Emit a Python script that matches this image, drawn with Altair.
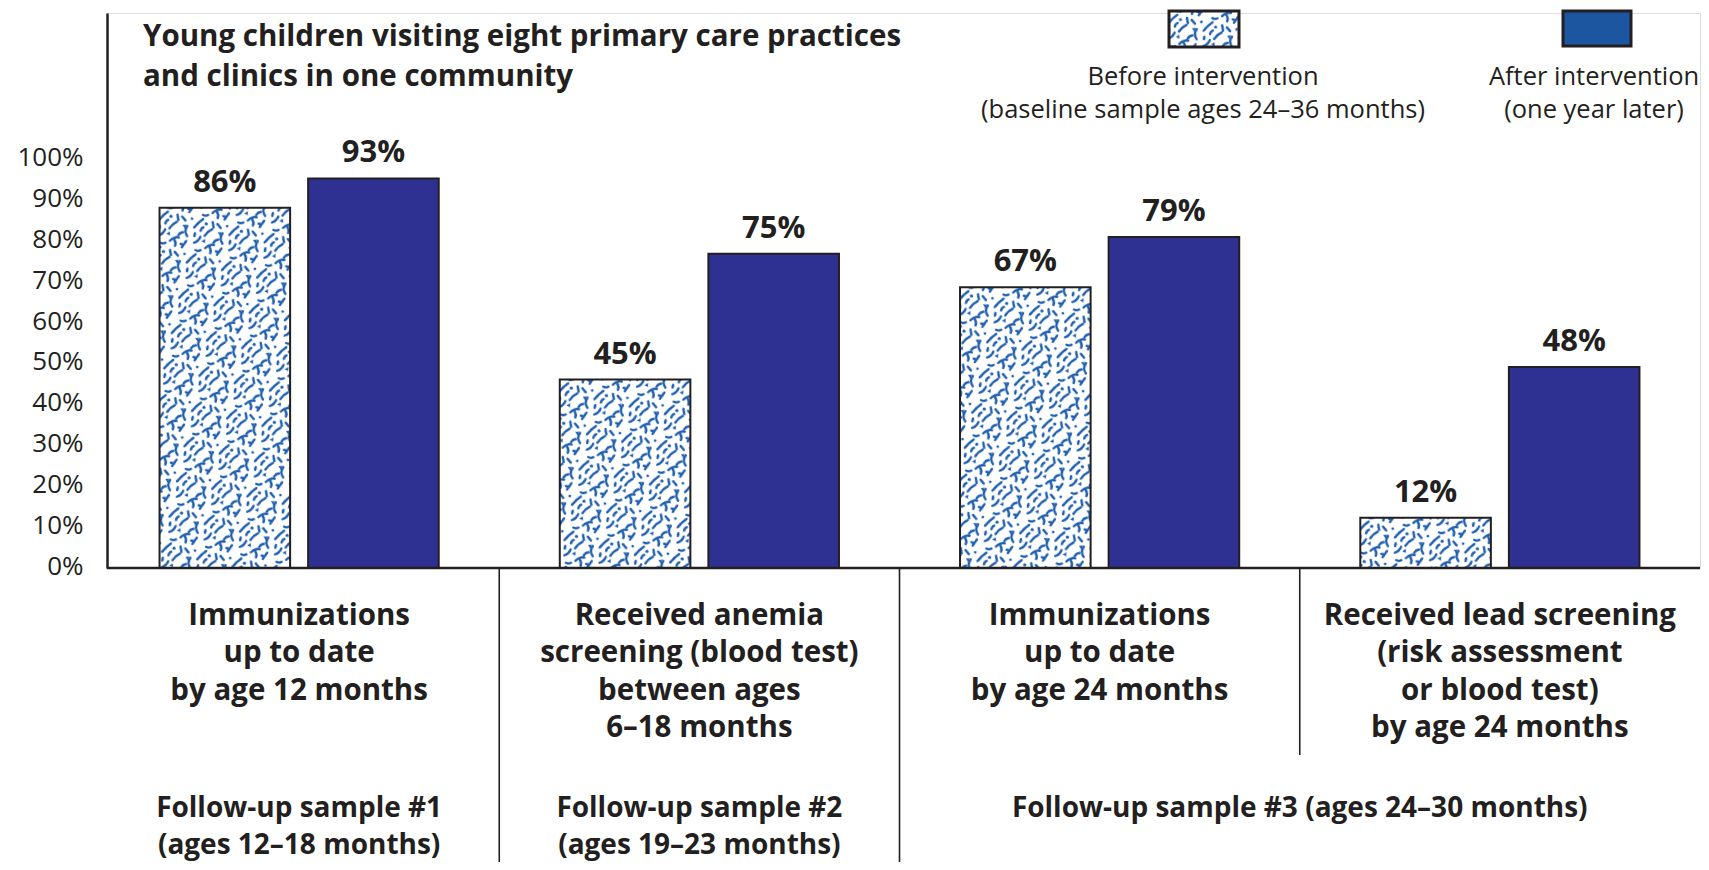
import base64
import altair as alt
import pandas as pd

# ---------------- data ----------------
categories = [
    "Immunizations|up to date|by age 12 months",
    "Received anemia|screening (blood test)|between ages|6–18 months",
    "Immunizations|up to date|by age 24 months",
    "Received lead screening|(risk assessment|or blood test)|by age 24 months",
]
series = ["Before intervention", "After intervention"]
before_values = [86, 45, 67, 12]
after_values = [93, 75, 79, 48]
y_ticks = [0, 10, 20, 30, 40, 50, 60, 70, 80, 90, 100]

samples = [
    "Follow-up sample #1\n(ages 12–18 months)",
    "Follow-up sample #2\n(ages 19–23 months)",
    "Follow-up sample #3 (ages 24–30 months)",
]
legend_labels = [
    "Before intervention\n(baseline sample ages 24–36 months)",
    "After intervention\n(one year later)",
]
title_text = "Young children visiting eight primary care practices\nand clinics in one community"

# ---------------- styles ----------------
INK = "#231f20"
AFTER_BLUE = "#2e3192"
LEGEND_BLUE = "#1c56a0"
PAT_BLUE = "#1f5fae"
FONT = "Open Sans"

PATTERN_SVG = (
    '<svg xmlns="http://www.w3.org/2000/svg" width="100%" height="100%">'
    '<defs><pattern id="p" width="36" height="36" patternUnits="userSpaceOnUse" '
    'patternTransform="rotate(12)">'
    f'<g fill="none" stroke="{PAT_BLUE}" stroke-width="2.4" stroke-linecap="round">'
    '<path d="M2 12 C4 8 6 5 9 2"/>'
    '<path d="M14 18 q2 -5 6 -8"/>'
    '<path d="M24 4 l4 3"/>'
    '<path d="M31 12 c-2 4 -1 7 2 10"/>'
    '<path d="M5 27 q4 -2 5 -7"/>'
    '<path d="M17 30 c2 -3 4 -5 8 -5"/>'
    '<path d="M33 27 l-3 7"/>'
    '<path d="M8 34 q3 1 5 -1"/>'
    '<path d="M23 34 q1 -3 -2 -6"/>'
    '<path d="M19 3 l2 5"/>'
    '<path d="M28 19 q-3 1 -4 4"/>'
    '<path d="M11 10 q-2 1 -2 4"/>'
    '</g>'
    f'<g fill="{PAT_BLUE}">'
    '<circle cx="13" cy="6" r="1.6"/>'
    '<path d="M26 12 l4 -1 l-1 4 z"/>'
    '<ellipse cx="4" cy="19" rx="1.4" ry="2.6"/>'
    '<circle cx="34" cy="4" r="1.4"/>'
    '<path d="M12 24 l3 -3 l1 4 z"/>'
    '<ellipse cx="29" cy="31" rx="2.2" ry="1.3"/>'
    '</g></pattern></defs>'
    '<rect width="100%" height="100%" fill="#ffffff"/>'
    '<rect width="100%" height="100%" fill="url(#p)"/>'
    '</svg>'
)
PATTERN_URL = "data:image/svg+xml;base64," + base64.b64encode(PATTERN_SVG.encode()).decode()

W, H = 1593, 555
Y_MAX = 132.5       # data scale (axis line runs above 100%)
Y_LABEL_MAX = 136   # tick-label scale (labels are set slightly tighter)

# ---------------- tables ----------------
rows = []
for c, b, a in zip(categories, before_values, after_values):
    rows.append({"category": c, "series": series[0], "value": b})
    rows.append({"category": c, "series": series[1], "value": a})
bars_df = pd.DataFrame(rows)
bars_df["label"] = bars_df["value"].astype(str) + "%"

x_enc = alt.X(
    "category:N",
    sort=categories,
    scale=alt.Scale(range=[-8, W], paddingInner=0, paddingOuter=0),
    axis=alt.Axis(
        title=None, domain=False, ticks=False, tickSize=0, labelAngle=0,
        labelExpr="split(datum.label, '|')", labelFont=FONT, labelFontWeight="bold",
        labelFontSize=29.5, labelColor=INK, labelPadding=56, labelBaseline="alphabetic",
        labelLineHeight=37.5, labelLimit=0, labelOverlap=False, labelAlign="center",
    ),
)
xoff_enc = alt.XOffset(
    "series:N", sort=series,
    scale=alt.Scale(domain=series, paddingInner=0.1212, paddingOuter=0.4074),
)
y_enc = alt.Y(
    "value:Q",
    scale=alt.Scale(domain=[0, Y_MAX], nice=False, zero=True),
    axis=None,
)

base = alt.Chart(bars_df)

pattern_bars = base.transform_filter(
    alt.datum.series == series[0]
).mark_image(aspect=False).encode(
    x=x_enc, xOffset=xoff_enc, y=y_enc, y2=alt.datum(0), url=alt.value(PATTERN_URL)
)

bars = base.mark_bar(stroke=INK, strokeWidth=2).encode(
    x=x_enc, xOffset=xoff_enc, y=y_enc,
    fill=alt.Fill("series:N", scale=alt.Scale(domain=series, range=["transparent", AFTER_BLUE]), legend=None),
)

value_labels = base.mark_text(
    font=FONT, fontWeight="bold", fontSize=31, color=INK, baseline="alphabetic", dy=-16
).encode(x=x_enc, xOffset=xoff_enc, y=y_enc, text="label:N")

data_layers = alt.layer(pattern_bars, bars, value_labels)

# y axis (its own scale so tick labels sit as in the original)
axis_layer = alt.Chart(pd.DataFrame({"tick": y_ticks})).mark_point(opacity=0).encode(
    y=alt.Y(
        "tick:Q",
        scale=alt.Scale(domain=[0, Y_LABEL_MAX], nice=False),
        axis=alt.Axis(
            title=None, values=y_ticks, labelExpr="datum.value + '%'", grid=False,
            ticks=False, domain=True, domainColor=INK, domainWidth=2.5, orient="left",
            labelFont=FONT, labelFontSize=26, labelColor=INK, labelPadding=24,
            labelOffset=-2,
        ),
    )
)

baseline_rule = alt.Chart(pd.DataFrame({"v": [0]})).mark_rule(
    color=INK, strokeWidth=2.5
).encode(y=alt.Y("v:Q", scale=alt.Scale(domain=[0, Y_LABEL_MAX], nice=False), axis=None))

div_x = alt.X("category:N", sort=categories, bandPosition=0)
long_dividers = alt.Chart(pd.DataFrame({"category": categories[1:3]})).mark_rule(
    color=INK, strokeWidth=1.6
).encode(x=div_x, y=alt.value(H), y2=alt.value(H + 310))
short_divider = alt.Chart(pd.DataFrame({"category": categories[3:4]})).mark_rule(
    color=INK, strokeWidth=1.6
).encode(x=div_x, y=alt.value(H), y2=alt.value(H + 187))

sample_text = dict(font=FONT, fontWeight="bold", fontSize=28, color=INK,
                   baseline="alphabetic", align="center", lineBreak="\n", lineHeight=37)
samples_a = alt.Chart(pd.DataFrame({"category": categories[0:2], "s": samples[0:2]})).mark_text(
    **sample_text
).encode(x=alt.X("category:N", sort=categories), y=alt.value(804), text="s:N")
samples_b = alt.Chart(pd.DataFrame({"category": categories[3:4], "s": samples[2:3]})).mark_text(
    **sample_text
).encode(x=alt.X("category:N", sort=categories, bandPosition=0), y=alt.value(804), text="s:N")

title_layer = alt.Chart(pd.DataFrame({"t": [title_text]})).mark_text(
    font=FONT, fontWeight="bold", fontSize=29.5, color=INK, align="left",
    baseline="alphabetic", lineBreak="\n", lineHeight=40,
).encode(x=alt.value(36), y=alt.value(33), text="t:N")

# ---------------- custom legend ----------------
one = pd.DataFrame({"k": [0]})
leg_pattern = alt.Chart(one).mark_image(aspect=False).encode(
    x=alt.value(1062), x2=alt.value(1132), y=alt.value(-2), y2=alt.value(34),
    url=alt.value(PATTERN_URL),
)
leg_pattern_box = alt.Chart(one).mark_rect(fill="transparent", stroke=INK, strokeWidth=3).encode(
    x=alt.value(1062), x2=alt.value(1132), y=alt.value(-2), y2=alt.value(34)
)
leg_after_box = alt.Chart(one).mark_rect(fill=LEGEND_BLUE, stroke=INK, strokeWidth=3).encode(
    x=alt.value(1456), x2=alt.value(1524), y=alt.value(-2), y2=alt.value(33)
)
leg_text = dict(font=FONT, fontSize=25.5, color=INK, align="center", baseline="alphabetic",
                lineBreak="\n", lineHeight=33)
leg_before_text = alt.Chart(pd.DataFrame({"t": legend_labels[0:1]})).mark_text(**leg_text).encode(
    x=alt.value(1096), y=alt.value(72), text="t:N"
)
leg_after_text = alt.Chart(pd.DataFrame({"t": legend_labels[1:2]})).mark_text(**leg_text).encode(
    x=alt.value(1487), y=alt.value(72), text="t:N"
)

chart = alt.layer(
    data_layers, axis_layer, baseline_rule,
    long_dividers, short_divider, samples_a, samples_b, title_layer,
    leg_pattern, leg_pattern_box, leg_after_box, leg_before_text, leg_after_text,
).resolve_scale(y="independent").properties(
    width=W, height=H,
    autosize=alt.AutoSizeParams(type="none"),
    padding={"left": 99, "top": 5, "right": 1, "bottom": 294},
).configure_view(stroke=None).configure(background="white")

chart.save("out.html", embed_options={"renderer": "svg", "actions": False})
